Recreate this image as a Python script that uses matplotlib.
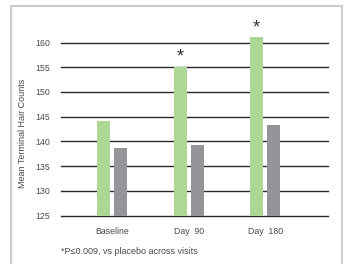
import matplotlib.pyplot as plt
from matplotlib.patches import Rectangle
import numpy as np

plt.rcParams['font.family'] = ['Liberation Sans', 'DejaVu Sans']

visits = ['Baseline', 'Day  90', 'Day  180']
treated = [144.1, 155.1, 161.1]
placebo = [138.7, 139.3, 143.3]
significant = [False, True, True]
yticks = [125, 130, 135, 140, 145, 150, 155, 160]

GREEN = '#acd794'
GRAY = '#959499'
TEXT = '#4a4a4a'

fig = plt.figure(figsize=(3.47, 2.64), dpi=100)
ax = fig.add_axes([61/347, 48.5/264, 267/347, 197.7/264])

x = np.arange(len(visits))
w = 0.17
off = 0.111
ax.bar(x - off, [v - 125 for v in treated], w, bottom=125, color=GREEN, zorder=3)
ax.bar(x + off, [v - 125 for v in placebo], w, bottom=125, color=GRAY, zorder=3)

for xi, v, s in zip(x, treated, significant):
    if s:
        ax.text(xi - off, v + 0.2, '*', ha='center', va='bottom',
                fontsize=13, color='#333333')

for t in yticks:
    ax.axhline(t, color='#2a2a2a', lw=1.0, zorder=1, clip_on=False)

ax.set_xlim(-0.667, 2.82)
ax.set_ylim(125, 165)
ax.set_yticks(yticks)
ax.set_xticks(x)
ax.set_xticklabels(visits)
ax.tick_params(axis='both', length=0, labelsize=6.3, colors=TEXT)
ax.tick_params(axis='y', pad=8)
ax.tick_params(axis='x', pad=8)
for sp in ax.spines.values():
    sp.set_visible(False)
ax.set_ylabel('Mean Terminal Hair Counts', fontsize=6.5, color=TEXT)
ax.yaxis.set_label_coords(-0.127, 0.417)

fig.text(61/347, 1 - 251/264, '*P\u22640.009, vs placebo across visits',
         fontsize=6.5, color=TEXT, va='center', ha='left')

fig.patches.append(Rectangle((11/347, -0.1), 331/347, 1 - 6/264 + 0.1,
                             transform=fig.transFigure, fill=False,
                             edgecolor='#cccccc', lw=1.5))

plt.savefig('out.png', dpi=100)
